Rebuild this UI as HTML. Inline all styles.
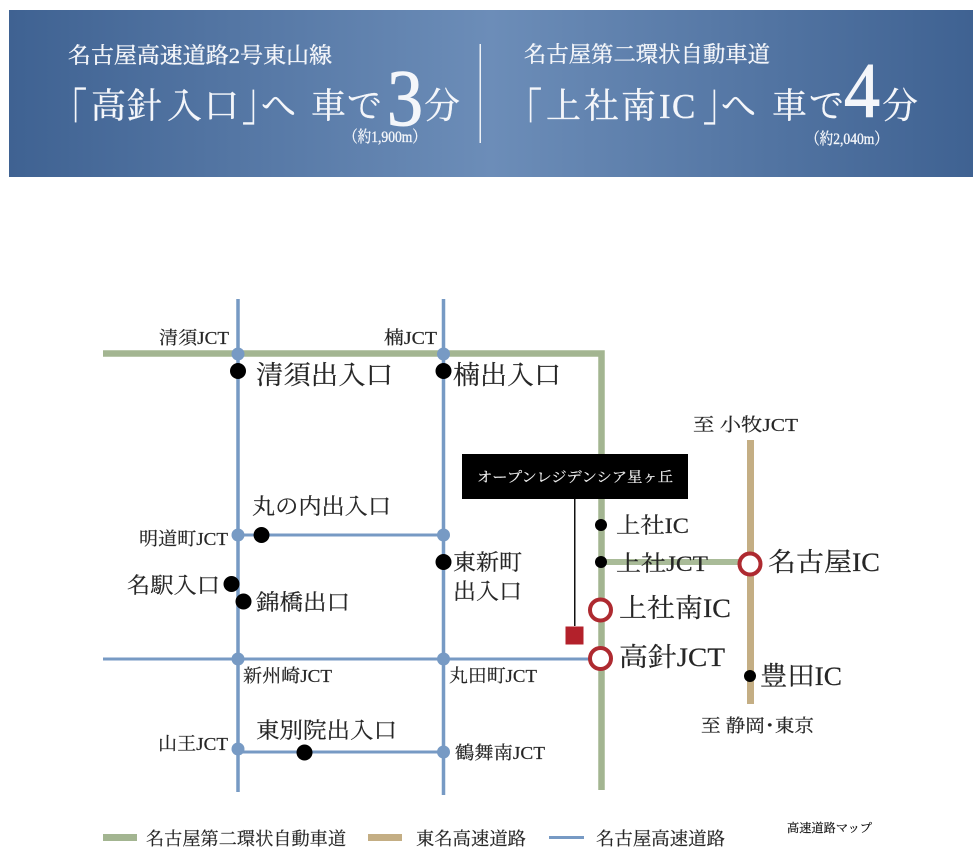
<!DOCTYPE html>
<html lang="ja">
<head>
<meta charset="utf-8">
<style>
html,body{margin:0;padding:0;background:#fff;}
svg{display:block;}
text{font-family:"Liberation Serif","Noto Serif CJK JP","Noto Serif CJK SC",serif;fill:#262626;stroke:#262626;stroke-width:0.2;}
.w text{fill:#f4f6fa;stroke:#f4f6fa;stroke-width:0.35;}
.w text.n{stroke-width:1;}
</style>
</head>
<body>
<svg width="980" height="862" viewBox="0 0 980 862" xmlns="http://www.w3.org/2000/svg">
<defs>
<linearGradient id="g" x1="0" x2="1" y1="0" y2="0">
<stop offset="0" stop-color="#3f6292"/>
<stop offset="0.5" stop-color="#6c8db8"/>
<stop offset="1" stop-color="#3f6292"/>
</linearGradient>
</defs>
<rect x="9" y="10" width="964" height="167" fill="url(#g)"/>
<rect x="479.500" y="44" width="1.500" height="99" fill="#eef2f7"/>
<g class="w">
<text x="68" y="63" font-size="22" textLength="264" lengthAdjust="spacingAndGlyphs">名古屋高速道路2号東山線</text>
<text transform="translate(52 132) scale(1 1.5)" font-size="35">「</text>
<text x="91 127 167 204" y="118" font-size="35">高針入口</text>
<text transform="translate(242 119.500) scale(1 1.5)" font-size="35">」</text>
<text x="261" y="118" font-size="35">へ</text>
<text x="311 347" y="118" font-size="35">車で</text>
<text class="n" x="387" y="125" font-size="80" textLength="36" lengthAdjust="spacingAndGlyphs">3</text>
<text x="424" y="118" font-size="36">分</text>
<text x="344" y="142" font-size="16" textLength="82" lengthAdjust="spacingAndGlyphs">（約1,900m）</text>
<text x="524" y="62" font-size="22" textLength="246" lengthAdjust="spacingAndGlyphs">名古屋第二環状自動車道</text>
<text transform="translate(507 132) scale(1 1.5)" font-size="35">「</text>
<text x="546 584 621 659 672" y="118" font-size="35">上社南IC</text>
<text transform="translate(703 119.500) scale(1 1.5)" font-size="35">」</text>
<text x="721" y="118" font-size="35">へ</text>
<text x="772 809" y="118" font-size="35">車で</text>
<text class="n" x="844" y="117" font-size="78" textLength="36" lengthAdjust="spacingAndGlyphs">4</text>
<text x="882" y="118" font-size="36">分</text>
<text x="806" y="144" font-size="16" textLength="82" lengthAdjust="spacingAndGlyphs">（約2,040m）</text>
</g>

<!-- green road -->
<path d="M103 353.500H601.500V790" fill="none" stroke="#a3b591" stroke-width="6.500"/>
<path d="M601 562H750" fill="none" stroke="#a9bb98" stroke-width="6"/>
<!-- tan road -->
<rect x="747" y="440" width="7" height="264" fill="#c4ae84"/>
<!-- blue roads -->
<g stroke="#779ac4" fill="none">
<path d="M238 299V792" stroke-width="3.500"/>
<path d="M443.500 299V795" stroke-width="3.500"/>
<path d="M238 535H443" stroke-width="3"/>
<path d="M103 659H600" stroke-width="3"/>
<path d="M238 752H443" stroke-width="3"/>
</g>
<g fill="#779ac4">
<circle cx="238" cy="354" r="6.500"/>
<circle cx="443.500" cy="354" r="6.500"/>
<circle cx="238" cy="535" r="6.500"/>
<circle cx="443.500" cy="535" r="6.500"/>
<circle cx="238" cy="659" r="6.500"/>
<circle cx="443.500" cy="659" r="6.500"/>
<circle cx="238" cy="749" r="6.500"/>
<circle cx="443.500" cy="752" r="6.500"/>
</g>
<!-- black dots -->
<g fill="#000">
<circle cx="238" cy="371" r="8"/>
<circle cx="443.500" cy="371" r="8"/>
<circle cx="261.500" cy="535" r="8"/>
<circle cx="443.500" cy="562" r="8"/>
<circle cx="231.500" cy="584" r="8"/>
<circle cx="243.500" cy="601.500" r="8"/>
<circle cx="304.500" cy="752.500" r="8"/>
<circle cx="601" cy="525" r="6"/>
<circle cx="601" cy="562" r="6"/>
<circle cx="750" cy="676" r="6"/>
</g>
<!-- red rings -->
<g fill="#fff" stroke="#ae2a30" stroke-width="4">
<circle cx="750" cy="564" r="10.500"/>
<circle cx="600.500" cy="610" r="10.500"/>
<circle cx="600.500" cy="658.500" r="10.500"/>
</g>
<!-- property -->
<rect x="462" y="454" width="226" height="45" fill="#000"/>
<rect x="574" y="499" width="1.500" height="127" fill="#111"/>
<rect x="565.500" y="626.500" width="18" height="18" fill="#b3212b"/>
<text x="477" y="482" font-size="14" textLength="196" lengthAdjust="spacingAndGlyphs" style="fill:#eeeeee;stroke:#eeeeee">オープンレジデンシア星ヶ丘</text>

<!-- small labels -->
<g font-size="18">
<text x="159" y="344" textLength="70" lengthAdjust="spacingAndGlyphs">清須JCT</text>
<text x="384" y="344" textLength="53" lengthAdjust="spacingAndGlyphs">楠JCT</text>
<text x="139" y="545" textLength="89" lengthAdjust="spacingAndGlyphs">明道町JCT</text>
<text x="243" y="682" textLength="89" lengthAdjust="spacingAndGlyphs">新州崎JCT</text>
<text x="449" y="682" textLength="88" lengthAdjust="spacingAndGlyphs">丸田町JCT</text>
<text x="158" y="750" textLength="70" lengthAdjust="spacingAndGlyphs">山王JCT</text>
<text x="455" y="759" textLength="90" lengthAdjust="spacingAndGlyphs">鶴舞南JCT</text>
<text x="693" y="431" textLength="105" lengthAdjust="spacingAndGlyphs">至 小牧JCT</text>
<text x="701" y="732" textLength="113" lengthAdjust="spacingAndGlyphs">至 静岡･東京</text>
</g>
<!-- medium labels -->
<g font-size="22">
<text x="252" y="514" textLength="139" lengthAdjust="spacingAndGlyphs">丸の内出入口</text>
<text x="453" y="570" textLength="69" lengthAdjust="spacingAndGlyphs">東新町</text>
<text x="453" y="599" textLength="69" lengthAdjust="spacingAndGlyphs">出入口</text>
<text x="127" y="593" textLength="93" lengthAdjust="spacingAndGlyphs">名駅入口</text>
<text x="256" y="610" textLength="94" lengthAdjust="spacingAndGlyphs">錦橋出口</text>
<text x="256" y="738" textLength="141" lengthAdjust="spacingAndGlyphs">東別院出入口</text>
<text x="616" y="533" textLength="73" lengthAdjust="spacingAndGlyphs">上社IC</text>
<text x="616" y="571" textLength="92" lengthAdjust="spacingAndGlyphs">上社JCT</text>
</g>
<!-- large labels -->
<g font-size="26">
<text x="256" y="384" textLength="137" lengthAdjust="spacingAndGlyphs">清須出入口</text>
<text x="453" y="384" textLength="108" lengthAdjust="spacingAndGlyphs">楠出入口</text>
<text x="768" y="571" textLength="112" lengthAdjust="spacingAndGlyphs">名古屋IC</text>
<text x="619" y="617" textLength="112" lengthAdjust="spacingAndGlyphs">上社南IC</text>
<text x="619" y="666" textLength="106" lengthAdjust="spacingAndGlyphs">高針JCT</text>
<text x="760" y="685" textLength="82" lengthAdjust="spacingAndGlyphs">豊田IC</text>
</g>

<!-- legend -->
<rect x="103" y="834" width="34" height="7" fill="#a3b591"/>
<rect x="368" y="834" width="34" height="7" fill="#c4ae84"/>
<rect x="549" y="836" width="35" height="3" fill="#779ac4"/>
<g font-size="18">
<text x="146" y="845" textLength="200" lengthAdjust="spacingAndGlyphs">名古屋第二環状自動車道</text>
<text x="416" y="845" textLength="110" lengthAdjust="spacingAndGlyphs">東名高速道路</text>
<text x="596" y="845" textLength="129" lengthAdjust="spacingAndGlyphs">名古屋高速道路</text>
</g>
<text x="787" y="832" font-size="12" textLength="85" lengthAdjust="spacingAndGlyphs" style="fill:#111;stroke:#111;stroke-width:.2">高速道路マップ</text>
</svg>
</body>
</html>
